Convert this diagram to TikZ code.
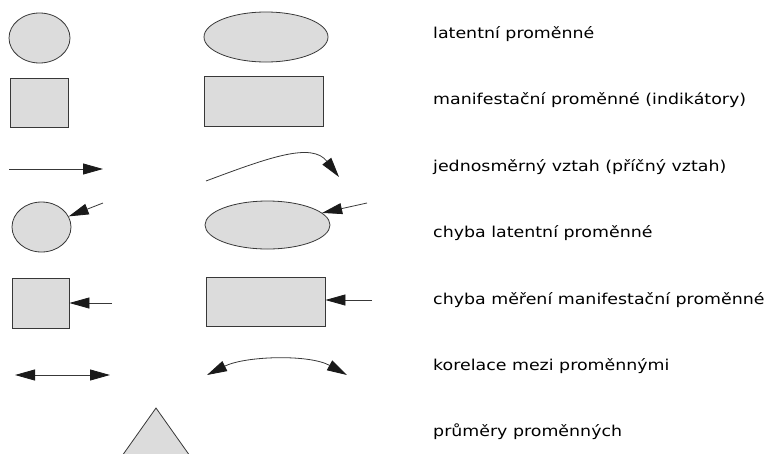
\documentclass[tikz,border=0pt]{standalone}
\usepackage{fontspec}
\setmainfont{DejaVu Sans}
\usetikzlibrary{arrows.meta,shapes.geometric}
\definecolor{shade}{HTML}{DCDCDC}
\definecolor{ink}{HTML}{383838}
\definecolor{head}{HTML}{1A1A1A}

\begin{document}
\begin{tikzpicture}[x=1pt,y=-1pt,
  lat/.style={ellipse,draw=ink,fill=shade,line width=0.8pt,inner sep=0pt},
  man/.style={rectangle,draw=ink,fill=shade,line width=0.8pt,inner sep=0pt},
  tip/.tip={Triangle[length=20pt,width=11pt,fill=head,color=head]},
  arr/.style={-tip,line width=0.8pt,ink},
  cor/.style={tip-tip,line width=0.8pt,ink},
  lab/.style={anchor=base west,inner sep=0pt,font=\fontsize{15}{18}\selectfont}]
\useasboundingbox (0,0) rectangle (767,453);
% latent variables
\node[lat,minimum width=61,minimum height=50] (l1) at (39.5,38) {};
\node[lat,minimum width=124,minimum height=50] (l2) at (266,37) {};
% manifest variables
\node[man,minimum width=58,minimum height=49] (m1) at (39,102.5) {};
\node[man,minimum width=119,minimum height=50] (m2) at (263.5,101) {};
% one-way paths
\coordinate (a0) at (9,169);
\coordinate (a1) at (103,169);
\draw[arr] (a0) -- (a1);
\coordinate (b0) at (206,181);
\coordinate (b1) at (339,177);
\draw[arr] (b0) .. controls (270,157) and (312,142) .. (b1);
% latent errors
\node[lat,minimum width=59,minimum height=50] (e1) at (41.5,227) {};
\coordinate (e1s) at (103,203);
\draw[arr] (e1s) -- (e1);
\node[lat,minimum width=125,minimum height=48] (e2) at (267.5,225) {};
\coordinate (e2s) at (367,203);
\draw[arr] (e2s) -- (e2);
% measurement errors
\node[man,minimum width=57,minimum height=50] (d1) at (40.5,303) {};
\coordinate (d1s) at (112,303);
\draw[arr] (d1s) -- (d1);
\node[man,minimum width=119,minimum height=49] (d2) at (265.5,301.5) {};
\coordinate (d2s) at (372,300);
\draw[arr] (d2s) -- (d2s -| d2.east);
% correlations
\coordinate (c0) at (15,375);
\coordinate (c1) at (110,375);
\draw[cor] (c0) -- (c1);
\coordinate (f0) at (207,375);
\coordinate (f1) at (347,375);
\draw[cor] (f0) .. controls (245,356) and (309,354) .. (f1);
% means
\begin{scope}
\clip (0,0) rectangle (767,453);
\draw[draw=ink,fill=shade,line width=0.8pt] (156,408) -- (105,480) -- (207,480) -- cycle;
\end{scope}
% legend texts
\node[lab] (t1) at (433,38) {\scalebox{1.16}[1]{latentní proměnné}};
\node[lab] (t2) at (433,104.5) {\scalebox{1.16}[1]{manifestační proměnné (indikátory)}};
\node[lab] (t3) at (433,171) {\scalebox{1.16}[1]{jednosměrný vztah (příčný vztah)}};
\node[lab] (t4) at (433,237) {\scalebox{1.16}[1]{chyba latentní proměnné}};
\node[lab] (t5) at (433,304) {\scalebox{1.16}[1]{chyba měření manifestační proměnné}};
\node[lab] (t6) at (433,370) {\scalebox{1.16}[1]{korelace mezi proměnnými}};
\node[lab] (t7) at (433,436) {\scalebox{1.16}[1]{průměry proměnných}};
\end{tikzpicture}
\end{document}
